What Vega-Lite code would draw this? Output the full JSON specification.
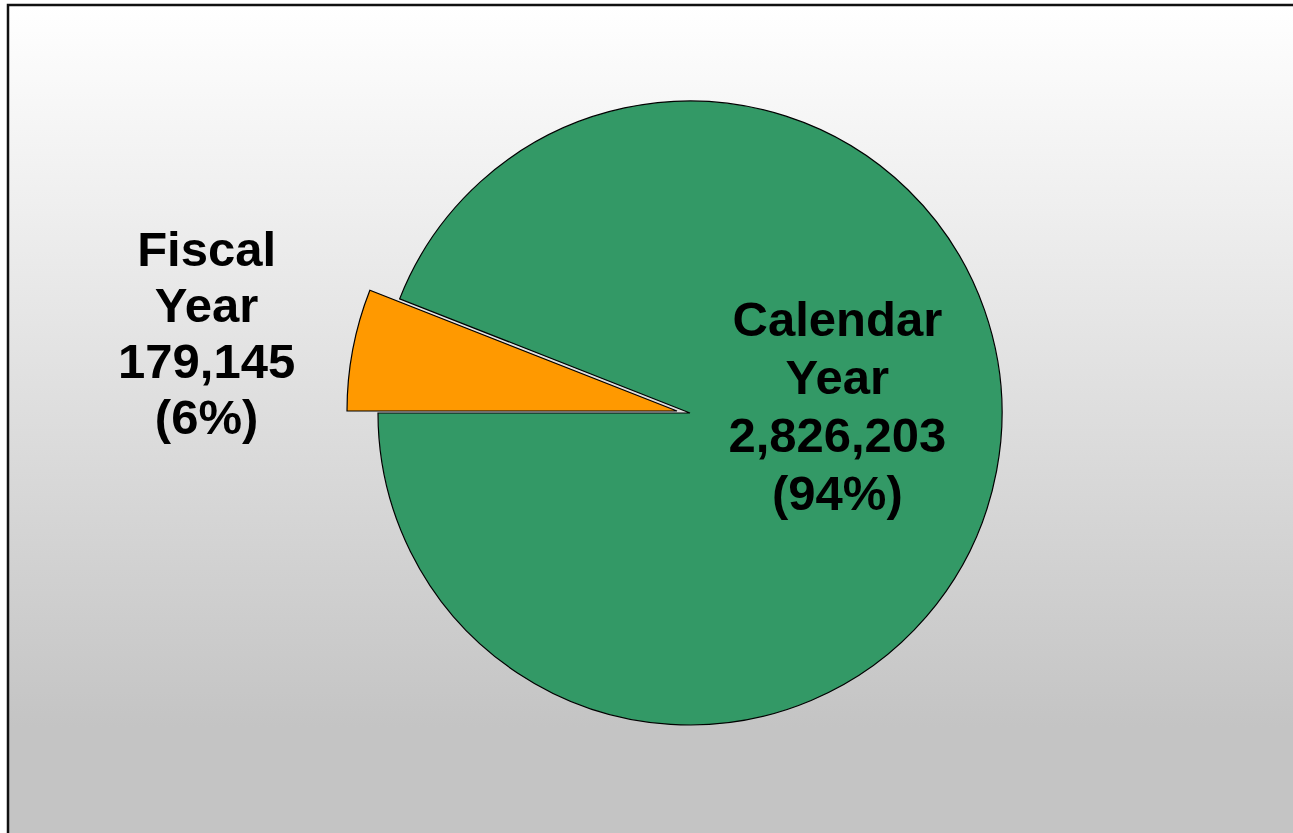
{
  "$schema": "https://vega.github.io/schema/vega-lite/v6.json",
  "width": 1364,
  "height": 840,
  "autosize": "none",
  "padding": {"left": 8, "top": 5, "right": 0, "bottom": 0},
  "background": "white",
  "view": {"stroke": null},
  "data": {
    "values": [
      {"category": "Fiscal Year", "value": 179145, "order": 1, "label": "Fiscal\nYear\n179,145\n(6%)"},
      {"category": "Calendar Year", "value": 2826203, "order": 2, "label": "Calendar\nYear\n2,826,203\n(94%)"}
    ]
  },
  "layer": [
    {
      "data": {"values": [{"bg": 1}]},
      "mark": {"type": "rect", "stroke": "#111111", "strokeWidth": 2.5,
        "fill": {"gradient": "linear", "x1": 0, "y1": 0, "x2": 0, "y2": 1,
          "stops": [{"offset": 0, "color": "#ffffff"}, {"offset": 0.86, "color": "#c4c4c4"}, {"offset": 1, "color": "#c4c4c4"}]}}
    },
    {
      "mark": {"type": "arc", "radius": 312, "stroke": "#000000", "strokeWidth": 1.2, "yOffset": -12},
      "encoding": {
        "theta": {"field": "value", "type": "quantitative", "stack": true, "scale": {"range": [4.712389, 10.995574]}},
        "order": {"field": "order", "type": "quantitative"},
        "color": {"field": "category", "type": "nominal", "legend": null,
          "scale": {"domain": ["Fiscal Year", "Calendar Year"], "range": ["#FF9900", "#339966"]}},
        "opacity": {"condition": {"test": "datum.category === 'Fiscal Year'", "value": 0}, "value": 1}
      }
    },
    {
      "mark": {"type": "arc", "radius": 330, "stroke": "#000000", "strokeWidth": 1.2, "xOffset": -13, "yOffset": -14},
      "encoding": {
        "theta": {"field": "value", "type": "quantitative", "stack": true, "scale": {"range": [4.712389, 10.995574]}},
        "order": {"field": "order", "type": "quantitative"},
        "color": {"field": "category", "type": "nominal", "legend": null,
          "scale": {"domain": ["Fiscal Year", "Calendar Year"], "range": ["#FF9900", "#339966"]}},
        "opacity": {"condition": {"test": "datum.category === 'Fiscal Year'", "value": 1}, "value": 0}
      }
    },
    {
      "mark": {"type": "text", "font": "Liberation Sans", "fontWeight": "bold", "fontSize": 49, "lineHeight": 58,
        "lineBreak": "\n", "align": "center", "baseline": "middle", "color": "#000000", "dy": -132},
      "encoding": {
        "theta": {"field": "value", "type": "quantitative", "stack": true, "scale": {"range": [4.712389, 10.995574]}},
        "order": {"field": "order", "type": "quantitative"},
        "radius": {"value": 150},
        "text": {"condition": {"test": "datum.category === 'Calendar Year'", "field": "label"}, "value": ""}
      }
    },
    {
      "mark": {"type": "text", "font": "Liberation Sans", "fontWeight": "bold", "fontSize": 49, "lineHeight": 56,
        "lineBreak": "\n", "align": "center", "baseline": "middle", "color": "#000000", "dy": -82},
      "encoding": {
        "theta": {"field": "value", "type": "quantitative", "stack": true, "scale": {"range": [4.712389, 10.995574]}},
        "order": {"field": "order", "type": "quantitative"},
        "radius": {"value": 492},
        "text": {"condition": {"test": "datum.category === 'Fiscal Year'", "field": "label"}, "value": ""}
      }
    }
  ]
}
